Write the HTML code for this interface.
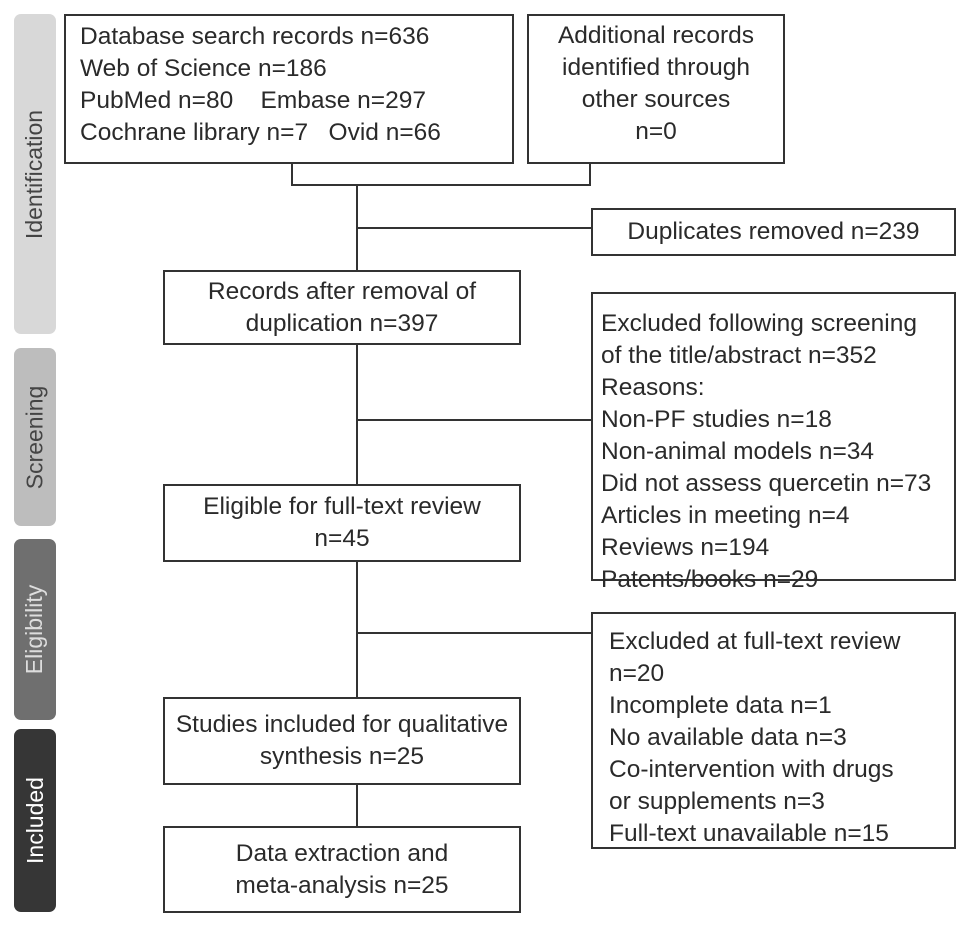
<!DOCTYPE html>
<html><head><style>
body{margin:0;background:#fff;width:969px;height:927px;position:relative;font-family:"Liberation Sans",sans-serif;color:#2a2a2a;overflow:hidden}
.b{position:absolute;border:2px solid #333;box-sizing:border-box;font-size:24.5px;line-height:32px}
.c{text-align:center;display:flex;align-items:center;justify-content:center}
.l{position:absolute;background:#333}
.s{position:absolute;left:14px;width:42px;border-radius:7px;display:flex;align-items:center;justify-content:center}
.s span{transform:rotate(-90deg);white-space:nowrap;font-size:23px}
</style></head><body>
<div class="s" style="top:14px;height:320px;background:#d8d8d8;color:#444"><span>Identification</span></div>
<div class="s" style="top:348px;height:178px;background:#bdbdbd;color:#444"><span>Screening</span></div>
<div class="s" style="top:539px;height:181px;background:#6f6f6f;color:#ddd"><span>Eligibility</span></div>
<div class="s" style="top:729px;height:183px;background:#363636;color:#fff"><span>Included</span></div>

<div class="b" style="left:64px;top:14px;width:450px;height:150px;padding:5px 0 0 14px">Database search records n=636<br>Web of Science n=186<br>PubMed n=80&nbsp;&nbsp;&nbsp;&nbsp;Embase n=297<br>Cochrane library n=7&nbsp;&nbsp;&nbsp;Ovid n=66</div>
<div class="b c" style="left:527px;top:14px;width:258px;height:150px;padding-bottom:10px">Additional records<br>identified through<br>other sources<br>n=0</div>
<div class="l" style="left:291px;top:163px;width:2px;height:23px"></div>
<div class="l" style="left:589px;top:163px;width:2px;height:23px"></div>
<div class="l" style="left:291px;top:184px;width:300px;height:2px"></div>
<div class="l" style="left:356px;top:184px;width:2px;height:87px"></div>
<div class="l" style="left:356px;top:227px;width:235px;height:2px"></div>
<div class="b c" style="left:591px;top:208px;width:365px;height:48px">Duplicates removed n=239</div>
<div class="b c" style="left:163px;top:270px;width:358px;height:75px">Records after removal of<br>duplication n=397</div>
<div class="l" style="left:356px;top:344px;width:2px;height:141px"></div>
<div class="l" style="left:356px;top:419px;width:235px;height:2px"></div>
<div class="b" style="left:591px;top:292px;width:365px;height:289px;padding:14px 0 0 8px">Excluded following screening<br>of the title/abstract n=352<br>Reasons:<br>Non-PF studies n=18<br>Non-animal models n=34<br>Did not assess quercetin n=73<br>Articles in meeting n=4<br>Reviews n=194<br>Patents/books n=29</div>
<div class="b c" style="left:163px;top:484px;width:358px;height:78px">Eligible for full-text review<br>n=45</div>
<div class="l" style="left:356px;top:561px;width:2px;height:137px"></div>
<div class="l" style="left:356px;top:632px;width:235px;height:2px"></div>
<div class="b" style="left:591px;top:612px;width:365px;height:237px;padding:12px 0 0 16px">Excluded at full-text review<br>n=20<br>Incomplete data n=1<br>No available data n=3<br>Co-intervention with drugs<br>or supplements n=3<br>Full-text unavailable n=15</div>
<div class="b c" style="left:163px;top:697px;width:358px;height:88px">Studies included for qualitative<br>synthesis n=25</div>
<div class="l" style="left:356px;top:784px;width:2px;height:43px"></div>
<div class="b c" style="left:163px;top:826px;width:358px;height:87px">Data extraction and<br>meta-analysis n=25</div>
</body></html>
